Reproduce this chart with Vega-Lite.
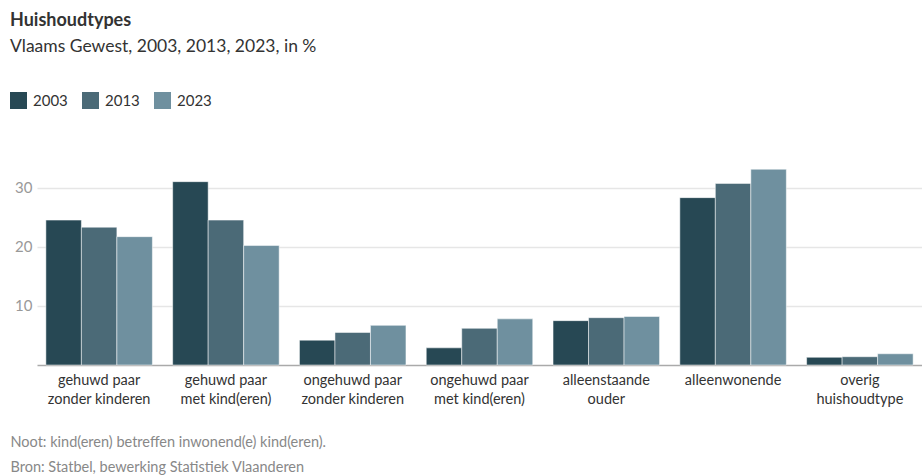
{
  "$schema": "https://vega.github.io/schema/vega-lite/v6.json",
  "autosize": {"type": "none"},
  "width": 885,
  "height": 207,
  "padding": {"left": 37, "top": 158, "right": 0, "bottom": 110},
  "background": "white",
  "config": {
    "font": "Lato",
    "view": {"stroke": null}
  },
  "title": {
    "text": "Huishoudtypes",
    "subtitle": "Vlaams Gewest, 2003, 2013, 2023, in %",
    "anchor": "start",
    "frame": "group",
    "dx": -27,
    "fontSize": 18,
    "fontWeight": "bold",
    "color": "#333333",
    "subtitleFontSize": 17.5,
    "subtitleColor": "#333333",
    "subtitlePadding": 8,
    "offset": 37
  },
  "data": {
    "values": [
      {"type": "gehuwd paar|zonder kinderen", "year": "2003", "value": 24.5},
      {"type": "gehuwd paar|zonder kinderen", "year": "2013", "value": 23.3},
      {"type": "gehuwd paar|zonder kinderen", "year": "2023", "value": 21.7},
      {"type": "gehuwd paar|met kind(eren)", "year": "2003", "value": 31.0},
      {"type": "gehuwd paar|met kind(eren)", "year": "2013", "value": 24.5},
      {"type": "gehuwd paar|met kind(eren)", "year": "2023", "value": 20.2},
      {"type": "ongehuwd paar|zonder kinderen", "year": "2003", "value": 4.2},
      {"type": "ongehuwd paar|zonder kinderen", "year": "2013", "value": 5.5},
      {"type": "ongehuwd paar|zonder kinderen", "year": "2023", "value": 6.7},
      {"type": "ongehuwd paar|met kind(eren)", "year": "2003", "value": 2.9},
      {"type": "ongehuwd paar|met kind(eren)", "year": "2013", "value": 6.2},
      {"type": "ongehuwd paar|met kind(eren)", "year": "2023", "value": 7.8},
      {"type": "alleenstaande|ouder", "year": "2003", "value": 7.5},
      {"type": "alleenstaande|ouder", "year": "2013", "value": 8.0},
      {"type": "alleenstaande|ouder", "year": "2023", "value": 8.2},
      {"type": "alleenwonende", "year": "2003", "value": 28.3},
      {"type": "alleenwonende", "year": "2013", "value": 30.7},
      {"type": "alleenwonende", "year": "2023", "value": 33.1},
      {"type": "overig|huishoudtype", "year": "2003", "value": 1.3},
      {"type": "overig|huishoudtype", "year": "2013", "value": 1.4},
      {"type": "overig|huishoudtype", "year": "2023", "value": 1.9}
    ]
  },
  "mark": {"type": "bar", "stroke": "white", "strokeWidth": 0.5},
  "encoding": {
    "x": {
      "field": "type",
      "type": "nominal",
      "sort": null,
      "scale": {"paddingInner": 0.16, "paddingOuter": 0.07},
      "axis": {
        "title": ["Noot: kind(eren) betreffen inwonend(e) kind(eren).", "Bron: Statbel, bewerking Statistiek Vlaanderen"],
        "titleAnchor": "start",
        "titleAlign": "left",
        "titleBaseline": "alphabetic",
        "titleX": -27,
        "titleY": 81,
        "titleFontSize": 14.5,
        "titleFontWeight": "normal",
        "titleColor": "#888888",
        "titleLineHeight": 25,
        "labelExpr": "split(datum.label, '|')",
        "labelAngle": 0,
        "labelFontSize": 14.5,
        "labelColor": "#333333",
        "labelLineHeight": 19,
        "labelBaseline": "top",
        "labelPadding": 8,
        "ticks": false,
        "domainColor": "#aaaaaa",
        "domainWidth": 1.5
      }
    },
    "xOffset": {"field": "year", "type": "nominal", "scale": {"paddingInner": 0, "paddingOuter": 0}},
    "y": {
      "field": "value",
      "type": "quantitative",
      "scale": {"domain": [0, 35], "nice": false},
      "axis": {
        "title": null,
        "values": [10, 20, 30],
        "domain": false,
        "ticks": false,
        "labelFontSize": 15,
        "labelColor": "#999999",
        "labelPadding": 5,
        "gridColor": "#e6e6e6",
        "gridWidth": 1.5
      }
    },
    "color": {
      "field": "year",
      "type": "nominal",
      "scale": {"domain": ["2003", "2013", "2023"], "range": ["#274854", "#4b6a77", "#6f909f"]},
      "legend": {
        "title": null,
        "orient": "none",
        "direction": "horizontal",
        "legendX": -27,
        "legendY": -66,
        "symbolType": "square",
        "symbolSize": 289,
        "symbolStrokeWidth": 0,
        "labelFontSize": 15,
        "labelColor": "#333333",
        "labelOffset": 6,
        "columnPadding": 14
      }
    }
  }
}
